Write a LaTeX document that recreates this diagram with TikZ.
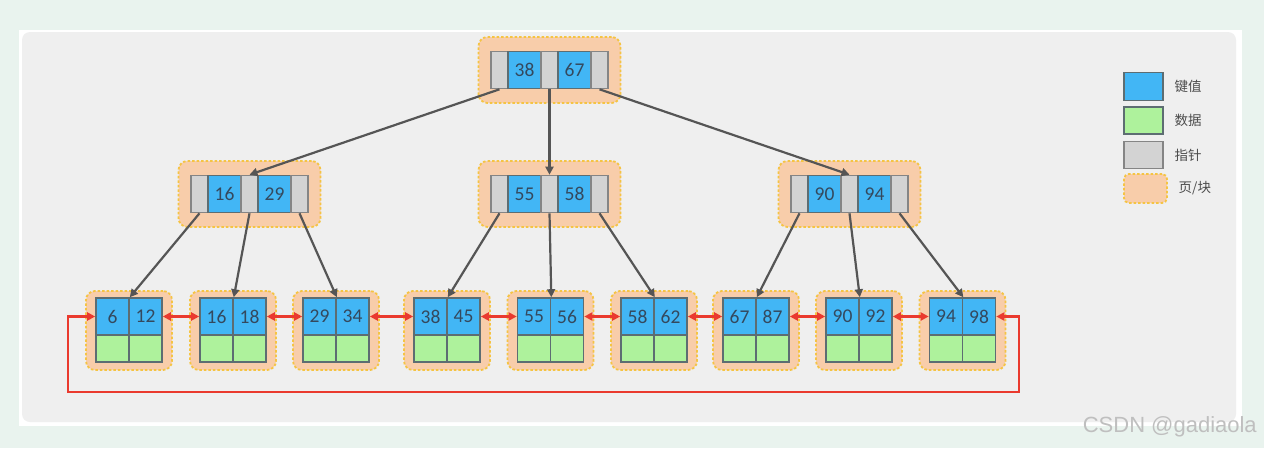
\documentclass[tikz,border=0pt]{standalone}
\usepackage{fontspec}
\setmainfont{Carlito}
\newfontfamily\cjk{Noto Sans CJK SC}
\newfontfamily\wmfont{Liberation Sans}
\usetikzlibrary{arrows.meta,positioning}
\definecolor{mintbg}{HTML}{E9F3EE}
\definecolor{panel}{HTML}{EFEFEF}
\definecolor{keyblue}{HTML}{42B6F5}
\definecolor{datgreen}{HTML}{AEF29C}
\definecolor{ptrgray}{HTML}{D3D3D3}
\definecolor{cellline}{HTML}{5D6D72}
\definecolor{ptrline}{HTML}{858585}
\definecolor{pagefill}{HTML}{F8CDAA}
\definecolor{pageline}{HTML}{F5C443}
\definecolor{treeline}{HTML}{555555}
\definecolor{linkred}{HTML}{EA3A2E}
\definecolor{numtext}{HTML}{34495E}
\begin{document}
\begin{tikzpicture}[x=1pt,y=-1pt,line width=1.6pt,
  key/.style={draw=cellline,fill=keyblue,minimum width=33pt,minimum height=37pt,inner sep=0pt,text=numtext,font=\fontsize{19.5}{21}\selectfont},
  ptr/.style={draw=ptrline,fill=ptrgray,minimum width=17pt,minimum height=37pt,inner sep=0pt},
  dat/.style={draw=cellline,fill=datgreen,minimum width=33pt,minimum height=27pt,inner sep=0pt},
  page/.style={draw=pageline,fill=pagefill,dash pattern=on 2.5pt off 2pt,rounded corners=9pt,line width=1.8pt,inner sep=0pt},
  tree/.style={draw=treeline,line width=2.2pt,-{Triangle[length=8pt,width=8pt]}},
  link/.style={draw=linkred,line width=2.6pt,{Triangle[length=8pt,width=8pt]}-{Triangle[length=8pt,width=8pt]}},
  legtext/.style={text=black!70,font=\cjk\fontsize{13.5}{15}\selectfont,inner sep=0pt}]
\useasboundingbox (0,0) rectangle (1264,448);
\fill[mintbg] (0,0) rectangle (1264,448);
\fill[white] (19,30) rectangle (1242,426);
\fill[panel,rounded corners=8pt] (22,32) rectangle (1236,422);
\foreach \n/\x/\y/\a/\b in {r/549.5/70/38/67,m1/249.5/194/16/29,m2/549.5/194/55/58,m3/849.5/194/90/94}{
  \node[page,minimum width=142pt,minimum height=66pt] (\n) at (\x,\y) {};
  \node[ptr] (\n-p1) at (\x-50,\y) {};
  \node[key] (\n-k1) at (\x-25,\y) {\a};
  \node[ptr] (\n-p2) at (\x,\y) {};
  \node[key] (\n-k2) at (\x+25,\y) {\b};
  \node[ptr] (\n-p3) at (\x+50,\y) {};
}
\foreach \n/\x/\a/\b in {l1/129/6/12,l2/233/16/18,l3/336/29/34,l4/447/38/45,l5/550.5/55/56,l6/654/58/62,l7/756/67/87,l8/859/90/92,l9/962.5/94/98}{
  \node[page,minimum width=86pt,minimum height=79pt] (\n) at (\x,330.5) {};
  \node[key] (\n-a) at (\x-16.5,316.5) {\a};
  \node[key] (\n-b) at (\x+16.5,316.5) {\b};
  \node[dat] (\n-c) at (\x-16.5,348.5) {};
  \node[dat] (\n-d) at (\x+16.5,348.5) {};
}
\foreach \p/\m in {p1/m1,p2/m2,p3/m3} \draw[tree] (r-\p.south) -- (\m-p2.north);
\foreach \m/\i/\j/\k in {m1/l1/l2/l3,m2/l4/l5/l6,m3/l7/l8/l9}{
  \draw[tree] (\m-p1.south) -- (\i-a.north east);
  \draw[tree] (\m-p2.south) -- (\j-a.north east);
  \draw[tree] (\m-p3.south) -- (\k-a.north east);
}
\foreach \i/\j in {l1/l2,l2/l3,l3/l4,l4/l5,l5/l6,l6/l7,l7/l8,l8/l9} \draw[link] (\i-b.east) -- (\j-a.west);
\coordinate (loop-r) at (1019,392);
\coordinate (loop-l) at (68,392);
\draw[link] (l9-b.east) -| (loop-r) -- (loop-l) |- (l1-a.west);
% legend
\node[key,minimum width=39pt,minimum height=28pt] (lg-key) at (1143.5,86.5) {};
\node[dat,minimum width=39pt,minimum height=27pt] (lg-dat) at (1143.5,120.5) {};
\node[ptr,minimum width=39pt,minimum height=27pt] (lg-ptr) at (1143.5,155) {};
\node[page,minimum width=43pt,minimum height=29pt,rounded corners=5pt] (lg-page) at (1145.5,188.5) {};
\node[legtext,right=10pt of lg-key] (lg-key-t) {键值};
\node[legtext,right=10pt of lg-dat] (lg-dat-t) {数据};
\node[legtext,right=10pt of lg-ptr] (lg-ptr-t) {指针};
\node[legtext,right=10pt of lg-page] (lg-page-t) {页/块};
\node[anchor=base west,inner sep=0pt,text=black!25,font=\wmfont\fontsize{22}{24}\selectfont] (wm) at (1082,432) {CSDN @gadiaola};
\end{tikzpicture}
\end{document}
